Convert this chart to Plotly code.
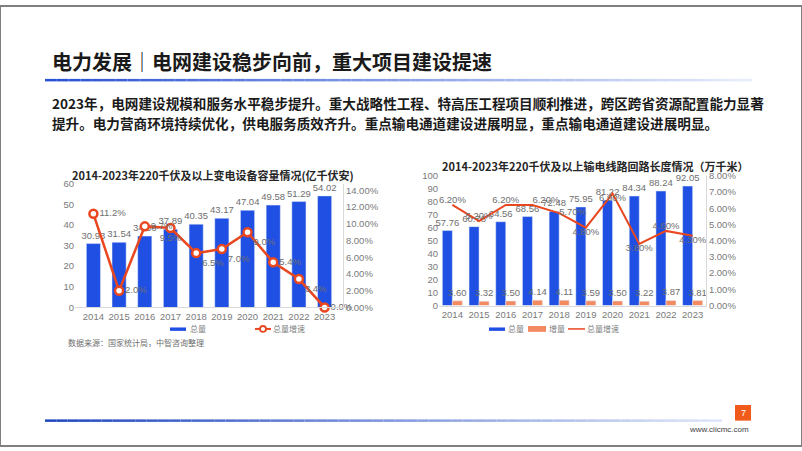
import plotly.graph_objects as go

years = ["2014", "2015", "2016", "2017", "2018", "2019", "2020", "2021", "2022", "2023"]

# Left chart: 220kV+ substation capacity (亿千伏安)
sub_total = [30.93, 31.54, 34.56, 37.89, 40.35, 43.17, 47.04, 49.58, 51.29, 54.02]
sub_growth = [0.112, 0.020, 0.097, 0.095, 0.065, 0.070, 0.090, 0.054, 0.034, 0.0]
sub_growth_labels = ["11.2%", "2.0%", "9.7%", "9.5%", "6.5%", "7.0%", "9.0%", "5.4%", "3.4%", "0.0%"]

# Right chart: 220kV+ transmission line length (万千米)
line_total = [57.76, 60.78, 64.56, 68.56, 72.48, 75.95, 81.22, 84.34, 88.24, 92.05]
line_incr = [3.60, 3.32, 3.50, 4.14, 4.11, 3.59, 3.50, 3.22, 3.87, 3.81]
line_growth = [0.062, 0.052, 0.062, 0.062, 0.057, 0.048, 0.069, 0.038, 0.046, 0.043]
line_growth_labels = ["6.20%", "5.20%", "6.20%", "6.20%", "5.70%", "4.80%", "6.90%", "3.80%", "4.60%", "4.30%"]

legend_left = ["总量", "总量增速"]
legend_right = ["总量", "增量", "总量增速"]

W, H = 802, 451
BLUE = "#1f4fe3"
RED = "#e8471f"
ORANGE = "#f28a62"
GREY = "#6e6e6e"
FONT = "Liberation Sans, Noto Sans CJK SC, sans-serif"
CJK = "Noto Sans CJK SC, sans-serif"
LBL = dict(size=9.5, color=GREY, family=FONT)

def px(x):
    return x / W

def py(y):
    return 1 - y / H

fig = go.Figure()

# ---- left chart
fig.add_trace(go.Bar(
    x=years, y=sub_total, name=legend_left[0], marker_color=BLUE,
    text=[f"{v:.2f}" for v in sub_total], textposition="outside", constraintext="none",
    textfont=LBL, cliponaxis=False, xaxis="x", yaxis="y"))
fig.add_trace(go.Scatter(
    x=years, y=sub_growth, name=legend_left[1], mode="lines+markers+text",
    line=dict(color=RED, width=2.5),
    marker=dict(size=8, color="white", line=dict(color=RED, width=2.5)),
    text=sub_growth_labels,
    textposition=["middle right", "middle right", "middle right", "bottom center", "bottom right",
                  "bottom right", "bottom right", "middle right", "bottom right", "middle right"],
    textfont=LBL, cliponaxis=False, xaxis="x", yaxis="y2"))

# ---- right chart
fig.add_trace(go.Bar(
    x=years, y=line_total, name=legend_right[0], marker_color=BLUE,
    text=[f"{v:.2f}" for v in line_total], textposition="outside", constraintext="none",
    textfont=LBL, cliponaxis=False, xaxis="x3", yaxis="y3"))
fig.add_trace(go.Bar(
    x=years, y=line_incr, name=legend_right[1], marker_color=ORANGE,
    text=[f"{v:.2f}" for v in line_incr], textposition="outside", constraintext="none",
    textfont=LBL, cliponaxis=False, xaxis="x3", yaxis="y3"))
fig.add_trace(go.Scatter(
    x=years, y=line_growth, name=legend_right[2], mode="lines+text",
    line=dict(color=RED, width=2),
    text=line_growth_labels,
    textposition=["top center", "top center", "top center", "top right", "middle right",
                  "bottom center", "bottom center", "bottom center", "top center", "bottom center"],
    textfont=LBL, cliponaxis=False, xaxis="x3", yaxis="y4"))

axfont = dict(size=9.5, color="#7a7a7a", family=FONT)
common_x = dict(type="category", showgrid=False, showline=True, linecolor="#d9d9d9",
                ticks="", tickfont=axfont, fixedrange=True)
common_y = dict(showgrid=False, zeroline=False, ticks="", tickfont=axfont)

fig.update_layout(
    width=W, height=H, autosize=False,
    margin=dict(l=0, r=0, t=0, b=0),
    paper_bgcolor="white", plot_bgcolor="rgba(0,0,0,0)",
    font=dict(family=CJK, color=GREY),
    barmode="group",
    bargap=0.45,
    showlegend=False,
    xaxis=dict(domain=[px(75), px(343)], anchor="y", **common_x),
    yaxis=dict(domain=[py(309), py(182)], range=[0, 60], dtick=10, anchor="x", **common_y),
    yaxis2=dict(overlaying="y", side="right", anchor="x", range=[0, 0.1482], dtick=0.02,
                tickformat=".2%", showline=True, linecolor="#d9d9d9", **common_y),
    xaxis3=dict(domain=[px(439), px(706)], anchor="y3", **common_x),
    yaxis3=dict(domain=[py(307), py(174)], range=[0, 100], dtick=10, anchor="x3", **common_y),
    yaxis4=dict(overlaying="y3", side="right", anchor="x3", range=[0, 0.08], dtick=0.01,
                tickformat=".2%", showline=True, linecolor="#d9d9d9", **common_y),
)

# the right chart's paired bars
fig.data[2].update(width=0.375, offset=-0.375)
fig.data[3].update(width=0.375, offset=0.0)

shapes = []
# page border
shapes.append(dict(type="rect", xref="paper", yref="paper", x0=0, y0=0, x1=1, y1=1,
                   line=dict(color="#7f7f7f", width=2), fillcolor="rgba(0,0,0,0)"))

def gradient_line(x0, x1, y, c0, c1, n=60, width=2):
    out = []
    for i in range(n):
        t = i / n
        r = int(c0[0] + (c1[0] - c0[0]) * t)
        g = int(c0[1] + (c1[1] - c0[1]) * t)
        b = int(c0[2] + (c1[2] - c0[2]) * t)
        xa = x0 + (x1 - x0) * i / n
        xb = x0 + (x1 - x0) * (i + 1) / n
        out.append(dict(type="line", xref="paper", yref="paper", x0=px(xa), x1=px(xb),
                        y0=py(y), y1=py(y), line=dict(color=f"rgb({r},{g},{b})", width=width)))
    return out

shapes += gradient_line(45, 752, 76, (40, 80, 210), (235, 240, 252), width=2.5)
shapes += gradient_line(45, 722, 425, (30, 70, 190), (225, 232, 250), width=2.5)
# page number box
shapes.append(dict(type="rect", xref="paper", yref="paper", x0=px(735), x1=px(751),
                   y0=py(425), y1=py(409), fillcolor="#f05a1a", line=dict(width=0)))

# hand-drawn legend keys
def rect_key(x0, x1, y0, y1, color):
    return dict(type="rect", xref="paper", yref="paper", x0=px(x0), x1=px(x1),
                y0=py(y1), y1=py(y0), fillcolor=color, line=dict(width=0))

def line_key(x0, x1, y, color, w):
    return dict(type="line", xref="paper", yref="paper", x0=px(x0), x1=px(x1),
                y0=py(y), y1=py(y), line=dict(color=color, width=w))

shapes.append(rect_key(170, 186, 329.5, 333, BLUE))
shapes.append(line_key(255, 271, 331, RED, 2))
shapes.append(dict(type="circle", xref="paper", yref="paper", x0=px(260), x1=px(266),
                   y0=py(334), y1=py(328), fillcolor="white", line=dict(color=RED, width=1.8)))
shapes.append(rect_key(489, 505, 329.5, 333, BLUE))
shapes.append(rect_key(528, 546, 328, 334, ORANGE))
shapes.append(line_key(568, 585, 331, RED, 1.5))
fig.update_layout(shapes=shapes)

LEG = dict(size=8, color="#808080", family=CJK)
annots = [
    dict(text="<b>电力发展｜电网建设稳步向前，重大项目建设提速</b>", x=px(50), y=py(57),
         xanchor="left", yanchor="middle", font=dict(size=20, color="#1a1a1a", family=CJK)),
    dict(text="<b>2023年，电网建设规模和服务水平稳步提升。重大战略性工程、特高压工程项目顺利推进，跨区跨省资源配置能力显著</b>",
         x=px(50), y=py(99), xanchor="left", yanchor="middle",
         font=dict(size=13.6, color="#1a1a1a", family=CJK)),
    dict(text="<b>提升。电力营商环境持续优化，供电服务质效齐升。重点输电通道建设进展明显，重点输电通道建设进展明显。</b>",
         x=px(50), y=py(120), xanchor="left", yanchor="middle",
         font=dict(size=13.6, color="#1a1a1a", family=CJK)),
    dict(text="<b>2014-2023年220千伏及以上变电设备容量情况(亿千伏安)</b>", x=px(213), y=py(173),
         xanchor="center", yanchor="middle", font=dict(size=11, color="#262626", family=CJK)),
    dict(text="<b>2014-2023年220千伏及以上输电线路回路长度情况（万千米）</b>", x=px(595), y=py(164),
         xanchor="center", yanchor="middle", font=dict(size=11, color="#262626", family=CJK)),
    dict(text=legend_left[0], x=px(188), y=py(331), xanchor="left", yanchor="middle", font=LEG),
    dict(text=legend_left[1], x=px(271), y=py(331), xanchor="left", yanchor="middle", font=LEG),
    dict(text=legend_right[0], x=px(506), y=py(331), xanchor="left", yanchor="middle", font=LEG),
    dict(text=legend_right[1], x=px(547), y=py(331), xanchor="left", yanchor="middle", font=LEG),
    dict(text=legend_right[2], x=px(585), y=py(331), xanchor="left", yanchor="middle", font=LEG),
    dict(text="数据来源：国家统计局，中智咨询整理", x=px(66), y=py(345),
         xanchor="left", yanchor="middle", font=dict(size=8, color=GREY, family=CJK)),
    dict(text="7", x=px(743), y=py(417), xanchor="center", yanchor="middle",
         font=dict(size=9, color="white", family=FONT)),
    dict(text="www.ciicmc.com", x=px(751), y=py(434), xanchor="right", yanchor="middle",
         font=dict(size=8, color="#404040", family=FONT)),
]
for a in annots:
    a.update(xref="paper", yref="paper", showarrow=False)
fig.update_layout(annotations=annots)

fig.write_html("out.html")
